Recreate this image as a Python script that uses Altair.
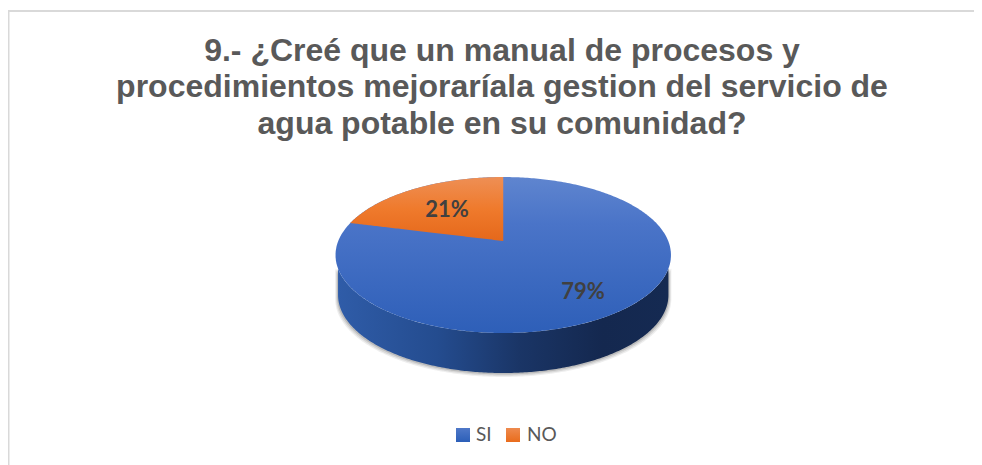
import altair as alt
import numpy as np
import pandas as pd

categories = ["SI", "NO"]
shares = [79, 21]
title_lines = [
    "9.- ¿Creé que un manual de procesos y",
    "procedimientos mejoraríala gestion del servicio de",
    "agua potable en su comunidad?",
]

# plot-area scale: one unit = the pie's radius
X_DOM = [-2.953, 2.807]
Y_DOM = [-2.692, 3.167]
TILT = 0.18   # perspective shift of the pie centre
DEPTH = 0.513 # thickness of the pie
NARROW = 0.985


def project(x, y):
    d = 1 + TILT * y
    return x * np.sqrt(1 - TILT ** 2) / d, (y + TILT) / d


def grad(stops, vertical=True):
    return alt.LinearGradient(
        gradient="linear",
        stops=[alt.GradientStop(color=c, offset=o) for o, c in stops],
        x1=0, x2=0 if vertical else 1, y1=0, y2=1 if vertical else 0,
    )


xs = alt.X("u:Q", scale=alt.Scale(domain=X_DOM, nice=False, zero=False), axis=None)
ys = alt.Y("v1:Q", scale=alt.Scale(domain=Y_DOM, nice=False, zero=False), axis=None)

u = -np.cos(np.linspace(0, np.pi, 241))
half = np.sqrt(np.clip(1 - u ** 2, 0, None))
disc = pd.DataFrame({"u": u, "v1": half, "v2": -half})

su = NARROW * u
upper = -np.sqrt(np.clip(1 - su ** 2, 0, None))
side = pd.DataFrame({"u": su, "v1": upper, "v2": -half - DEPTH})

# the NO slice ends at twelve o'clock, its start follows from its share
a = np.radians(shares[1] / sum(shares) * 360)
t = np.linspace(a, 0, 80)
sx, sy = project(-np.sin(t), np.cos(t))
ax, ay = project(0.0, 0.0)
left_u, left_v = sx[0], sy[0]
line_v = left_v + (ay - left_v) * (sx - left_u) / (ax - left_u)
slice_df = pd.DataFrame({"u": sx, "v1": sy, "v2": line_v})


def area(df, **kw):
    return alt.Chart(df).mark_area(orient="vertical", **kw).encode(x=xs, y=ys, y2=alt.Y2("v2:Q"))


shadows = []
for grow, op in [(0.05, 0.10), (0.035, 0.14), (0.018, 0.22)]:
    sh = pd.DataFrame({"u": su * (1 + grow * 0.35), "v1": upper,
                       "v2": -half - DEPTH - grow})
    shadows.append(area(sh, color="#555555", opacity=op))

side_layer = area(side, color=grad([(0, "#2f5ca8"), (0.3, "#244c8f"), (0.55, "#1a3566"), (0.8, "#14284f"), (1, "#152a52")], vertical=False))
top_layer = area(disc, color=grad([(0, "#5f85cf"), (0.3, "#4a74c8"), (1, "#2e5fb8")]))
slice_layer = area(slice_df, color=grad([(0, "#ee8f55"), (0.5, "#ef7a2c"), (1, "#e5681b")]))

label_df = pd.DataFrame({"t": [f"{shares[0]}%", f"{shares[1]}%"],
                         "px": [583 - 8, 447 - 8], "py": [292 - 8, 210 - 8]})
labels = alt.Chart(label_df).mark_text(
    font="Lato", fontWeight="bold", fontSize=22, color="#404040", align="center", baseline="middle"
).encode(x=alt.X("px:Q", scale=None), y=alt.Y("py:Q", scale=None), text="t:N")

legend_df = pd.DataFrame({"t": categories, "bx": [463 - 8, 513 - 8], "tx": [476 - 8, 527 - 8], "py": [435 - 8, 435 - 8]})
leg_si = alt.Chart(legend_df.iloc[[0]]).mark_square(size=196, opacity=1,
    fill=grad([(0, "#4f78c8"), (1, "#2c5fb8")])).encode(
    x=alt.X("bx:Q", scale=None), y=alt.Y("py:Q", scale=None))
leg_no = alt.Chart(legend_df.iloc[[1]]).mark_square(size=196, opacity=1,
    fill=grad([(0, "#ee8a4e"), (1, "#e96c1c")])).encode(
    x=alt.X("bx:Q", scale=None), y=alt.Y("py:Q", scale=None))
leg_txt = alt.Chart(legend_df).mark_text(
    font="Lato", fontSize=19, color="#595959", align="left", baseline="middle"
).encode(x=alt.X("tx:Q", scale=None), y=alt.Y("py:Q", scale=None), text="t:N")

frame_top = alt.Chart(pd.DataFrame({"a": [0]})).mark_rule(color="#d9d9d9", strokeWidth=2).encode(
    x=alt.value(0), x2=alt.value(966), y=alt.value(3))
frame_left = alt.Chart(pd.DataFrame({"a": [0]})).mark_rule(color="#d9d9d9", strokeWidth=1.5).encode(
    x=alt.value(0.75), y=alt.value(2), y2=alt.value(457))

chart = alt.layer(
    frame_top, frame_left, *shadows, side_layer, top_layer, slice_layer, labels, leg_si, leg_no, leg_txt
).resolve_scale(x="shared", y="shared").properties(
    width=966, height=457, padding=0,
    autosize=alt.AutoSizeParams(type="none"),
    background="white",
    title=alt.TitleParams(
        text=title_lines, font="Liberation Sans", fontSize=32, fontWeight="bold",
        color="#595959", anchor="start", align="center", baseline="top", lineHeight=36.7,
        dx=494, dy=133, offset=0, frame="group",
    ),
).configure_view(stroke=None)

chart.save("out.html", embed_options={"renderer": "svg", "actions": False})
